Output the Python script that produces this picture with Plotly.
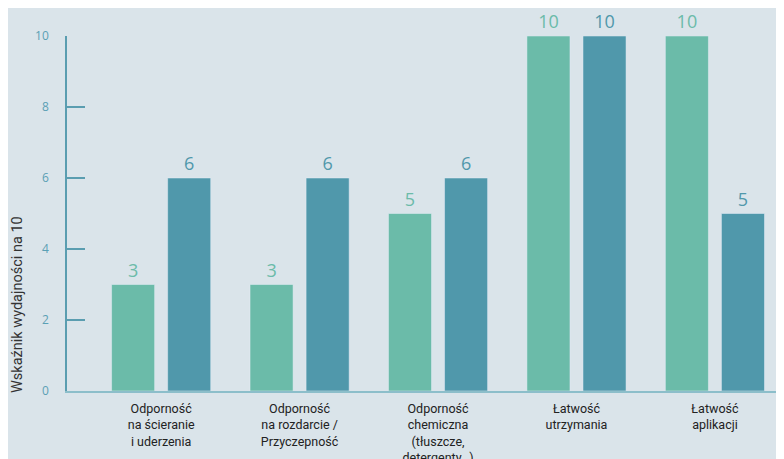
import plotly.graph_objects as go

categories = [
    "Odporność<br>na ścieranie<br>i uderzenia",
    "Odporność<br>na rozdarcie /<br>Przyczepność",
    "Odporność<br>chemiczna<br>(tłuszcze,<br>detergenty…)",
    "Łatwość<br>utrzymania",
    "Łatwość<br>aplikacji",
]
series_a = [3, 3, 5, 10, 10]
series_b = [6, 6, 6, 10, 5]
y_ticks = [0, 2, 4, 6, 8, 10]

green = "#6BBBA9"
blue = "#5098AB"
bg = "#DAE4EA"

fig = go.Figure()
fig.add_trace(go.Bar(
    x=categories, y=series_a, marker_color=green,
    text=[str(v) for v in series_a], textposition="outside",
    textfont=dict(color=green, size=18, family="Open Sans"),
    cliponaxis=False, showlegend=False,
))
fig.add_trace(go.Bar(
    x=categories, y=series_b, marker_color=blue,
    text=[str(v) for v in series_b], textposition="outside",
    textfont=dict(color=blue, size=18, family="Open Sans"),
    cliponaxis=False, showlegend=False,
))

fig.update_layout(
    width=776, height=451,
    paper_bgcolor=bg, plot_bgcolor=bg,
    margin=dict(l=59, r=4, t=28, b=68),
    barmode="group", bargap=0.19, bargroupgap=0.232,
    font=dict(family="Open Sans", color="#222222"),
)
fig.update_xaxes(
    range=[-0.68, 4.47], automargin=False,
    showgrid=False, zeroline=False,
    showline=True, linecolor="#8CBECA", linewidth=2,
    ticks="", tickfont=dict(size=12.5, color="#222222", family="Roboto"),
    ticklabelstandoff=5,
)
fig.update_yaxes(
    range=[0, 10], tickvals=y_ticks, automargin=False,
    showgrid=False, zeroline=False,
    showline=True, linecolor="#5A9DB0", linewidth=1.5,
    ticks="inside", ticklen=18, tickcolor="#5A9DB0", tickwidth=1.5,
    tickfont=dict(size=12, color="#5AA0B5", family="Open Sans"),
    ticklabelstandoff=14,
)
fig.add_annotation(
    text="Wskaźnik wydajności na 10", textangle=-90,
    xref="paper", yref="paper", x=(17 - 67) / 713, y=(391 - 305) / 355,
    xanchor="center", yanchor="middle", showarrow=False,
    font=dict(size=14.5, color="#333333", family="Roboto"),
)
fig.write_html("out.html")
